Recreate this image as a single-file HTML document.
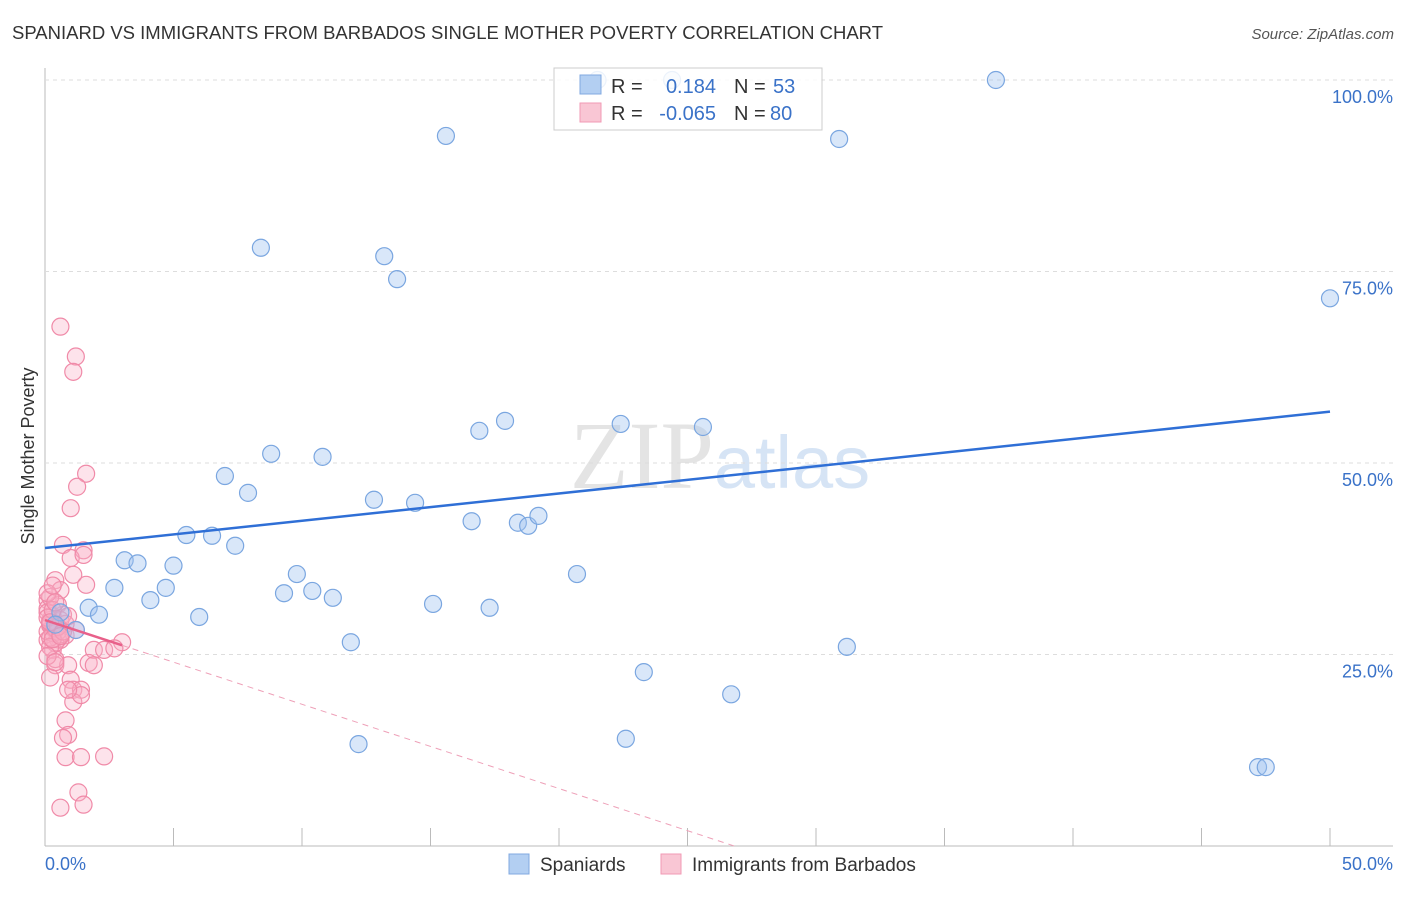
<!DOCTYPE html>
<html><head><meta charset="utf-8"><style>
body{margin:0;background:#fff;font-family:"Liberation Sans",sans-serif;}
svg text{font-family:"Liberation Sans",sans-serif;}
</style></head><body>
<svg id="c" width="1406" height="892" xmlns="http://www.w3.org/2000/svg">
<text x="12" y="39" font-size="18.5" fill="#333">SPANIARD VS IMMIGRANTS FROM BARBADOS SINGLE MOTHER POVERTY CORRELATION CHART</text>
<text x="1394" y="39" font-size="15" fill="#555" font-style="italic" text-anchor="end">Source: ZipAtlas.com</text>
<text x="720" y="488" font-size="96" fill="#e4e4e4" text-anchor="middle" font-family="Liberation Serif"><tspan font-family="Liberation Serif">ZIP</tspan><tspan font-family="Liberation Sans" fill="#d6e4f5" font-size="74">atlas</tspan></text>
<text transform="translate(34,456) rotate(-90)" font-size="18" fill="#333" text-anchor="middle">Single Mother Poverty</text>
<g id="grid"></g><g id="marks"></g>
<g>
<rect x="554" y="68" width="268" height="62" fill="#fff" fill-opacity="0.85" stroke="#ccc"/>
<rect x="580" y="75" width="21" height="19" fill="#b3cff2" stroke="#80a8e0"/>
<text x="611" y="93" font-size="20" fill="#333">R =</text><text x="716" y="93" font-size="20" fill="#3a72c8" text-anchor="end">0.184</text>
<text x="734" y="93" font-size="20" fill="#333">N =</text><text x="773" y="93" font-size="20" fill="#3a72c8">53</text>
<rect x="580" y="103" width="21" height="19" fill="#f9c6d4" stroke="#f19ab4"/>
<text x="611" y="120" font-size="20" fill="#333">R =</text><text x="716" y="120" font-size="20" fill="#3a72c8" text-anchor="end">-0.065</text>
<text x="734" y="120" font-size="20" fill="#333">N =</text><text x="770" y="120" font-size="20" fill="#3a72c8">80</text>
</g>
<g>
<rect x="509" y="854" width="20" height="20" fill="#b3cff2" stroke="#80a8e0"/>
<text x="540" y="871" font-size="19" fill="#333">Spaniards</text>
<rect x="661" y="854" width="20" height="20" fill="#f9c6d4" stroke="#f19ab4"/>
<text x="692" y="871" font-size="19" fill="#333">Immigrants from Barbados</text>
</g>
</svg>
<script>
const yTicks=[25,50,75,100];
const yTickLabels=["25.0%","50.0%","75.0%","100.0%"];
const xTickLabels=["0.0%","50.0%"];
const blueX=[21.5,24.4,37.0,15.6,30.9,8.4,13.2,13.7,50,17.9,16.9,22.4,25.6,7.0,8.8,10.8,7.9,12.8,14.4,16.6,18.4,18.8,19.2,5.5,6.5,7.4,3.1,3.6,5.0,2.7,4.7,4.1,9.8,9.3,10.4,11.2,20.7,1.7,2.1,6.0,15.1,17.3,11.9,31.2,23.3,26.7,12.2,22.6,47.2,47.5,0.6,1.2,0.4];
const blueY=[100,100,100,92.7,92.3,78.1,77.0,74.0,71.5,55.5,54.2,55.1,54.7,48.3,51.2,50.8,46.1,45.2,44.8,42.4,42.2,41.8,43.1,40.6,40.5,39.2,37.3,36.9,36.6,33.7,33.7,32.1,35.5,33.0,33.3,32.4,35.5,31.1,30.2,29.9,31.6,31.1,26.6,26.0,22.7,19.8,13.3,14.0,10.3,10.3,30.5,28.2,28.9];
const pinkX=[0.6,1.2,1.1,1.6,1.25,1.0,0.7,1.5,1.0,1.5,0.4,1.1,0.6,1.6,0.1,0.5,0.7,0.2,0.4,0.8,1.2,0.1,0.6,0.3,1.9,2.3,3.0,2.7,0.4,0.9,1.0,1.1,1.4,1.1,0.8,0.9,0.7,0.8,1.4,2.3,1.3,1.5,0.6,1.7,1.9,0.4,1.4,0.9,0.1,0.2,0.3,0.5,0.3,0.1,0.2,0.4,0.6,0.2,0.3,0.1,0.5,0.8,0.2,0.4,0.1,0.3,0.6,0.2,0.1,0.4,0.3,0.5,0.2,0.7,0.1,0.3,0.9,0.2,0.4,0.6];
const pinkY=[67.8,63.9,61.9,48.6,46.9,44.1,39.3,38.6,37.6,38.0,34.7,35.4,33.4,34.1,32.1,31.5,30.2,29.5,28.2,27.5,28.2,26.9,26.9,25.6,25.6,25.6,26.6,25.8,23.6,23.6,21.7,20.4,20.4,18.8,16.4,14.5,14.1,11.6,11.6,11.7,7.0,5.4,5.0,23.9,23.6,24.4,19.7,20.4,28.0,29.0,30.0,27.0,28.5,31.0,32.5,26.5,29.5,28.8,27.8,30.5,28.0,29.0,27.2,28.4,29.8,30.8,27.6,26.0,33.0,31.8,27.0,28.6,29.2,28.0,24.8,34.0,30.0,22.0,24.0,27.4];
const blueTrend=[38.9,56.7];
const pinkTrend=[29.5,-1.1];
const NS="http://www.w3.org/2000/svg";
const X=v=>45+v*25.7, Y=v=>846-v*7.66;
const g=document.getElementById('grid'), m=document.getElementById('marks');
function el(t,a,p){const e=document.createElementNS(NS,t);for(const k in a)e.setAttribute(k,a[k]);p.appendChild(e);return e;}
let ax=el('line',{x1:45,y1:68,x2:45,y2:846,stroke:'#bbb'},g);


let bx=el('line',{x1:45,y1:846,x2:1393,y2:846,stroke:'#bbb'},g);


yTicks.forEach((v,i)=>{
 const l=el('line',{x1:45,y1:Y(v),x2:1393,y2:Y(v),stroke:'#ddd','stroke-dasharray':'4,4'},g);
 
 
 const t=el('text',{x:1393,y:Y(v)+23,'font-size':18,fill:'#3a72c8','text-anchor':'end'},g);t.textContent=yTickLabels[i];
 
 
});
for(let i=0;i<=10;i++){const l=el('line',{x1:X(i*5),y1:828,x2:X(i*5),y2:846,stroke:'#bbb'},g);
 
 }
[[0,'start'],[50,'end']].forEach((p,i)=>{const t=el('text',{x:i?1393:45,y:870,'font-size':18,fill:'#3a72c8','text-anchor':p[1]},g);t.textContent=xTickLabels[i];
 
 });
pinkX.forEach((x,i)=>{const c=el('circle',{cx:X(x),cy:Y(pinkY[i]),r:8.5,fill:'rgba(248,175,198,0.35)',stroke:'#f08aa8','stroke-width':1.2},m);
 
 });
blueX.forEach((x,i)=>{const c=el('circle',{cx:X(x),cy:Y(blueY[i]),r:8.5,fill:'rgba(160,196,240,0.4)',stroke:'#7aa6e0','stroke-width':1.2},m);
 
 });
const bt=el('line',{x1:X(0),y1:Y(blueTrend[0]),x2:X(50),y2:Y(blueTrend[1]),stroke:'#2f6fd6','stroke-width':2.5},m);


const x0=-pinkTrend[0]/pinkTrend[1];
const pd=el('line',{x1:X(3),y1:Y(pinkTrend[0]+pinkTrend[1]*3),x2:X(x0),y2:Y(0),stroke:'#eea0b8','stroke-width':1,'stroke-dasharray':'6,5'},m);


const ps=el('line',{x1:X(0),y1:Y(pinkTrend[0]),x2:X(3),y2:Y(pinkTrend[0]+pinkTrend[1]*3),stroke:'#e8608a','stroke-width':2.5},m);


</script>
</body></html>
